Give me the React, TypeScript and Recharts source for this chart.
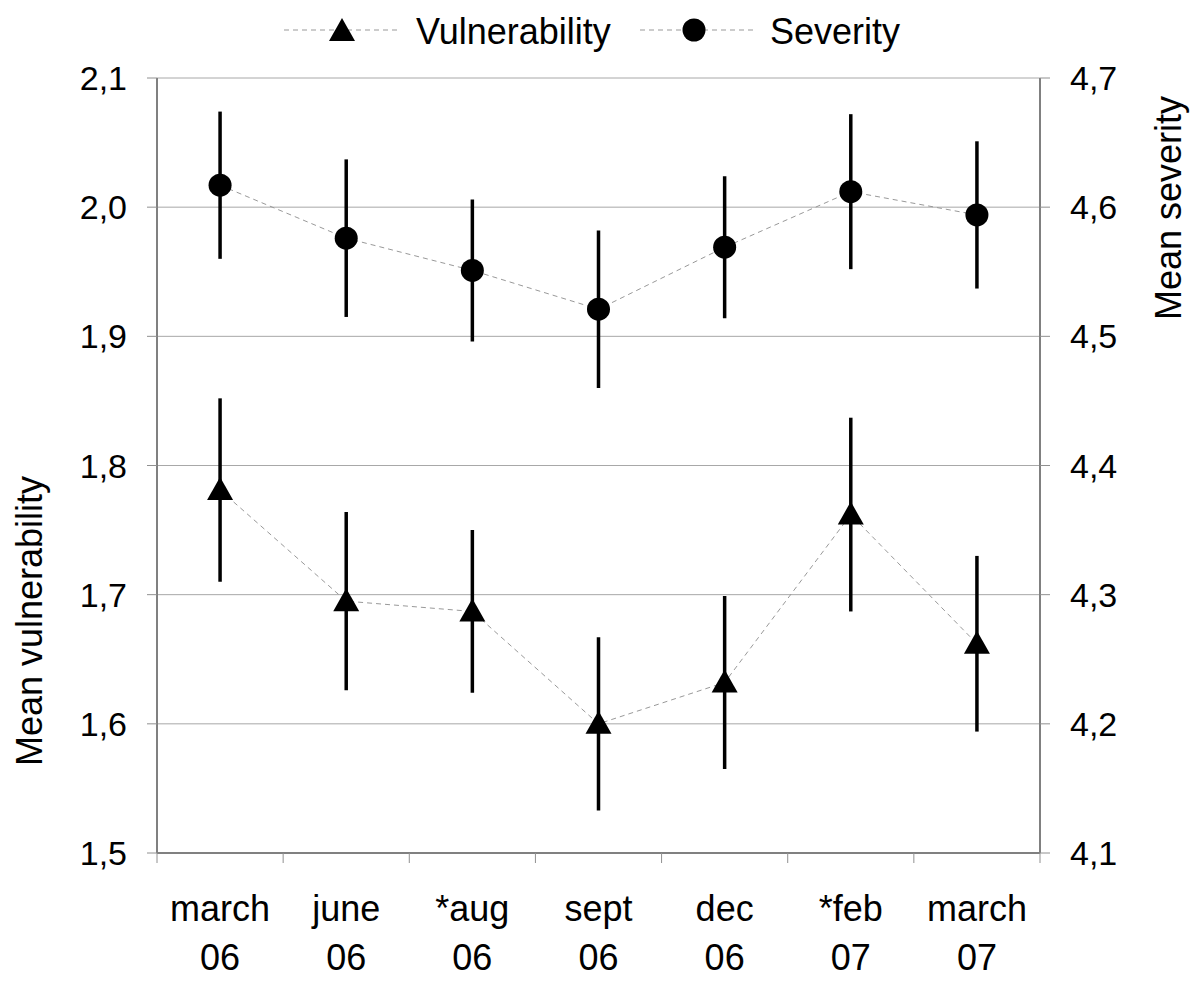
import React from 'react';
import { ComposedChart, Line, XAxis, YAxis, CartesianGrid, ErrorBar } from 'recharts';

const months = ['march', 'june', '*aug', 'sept', 'dec', '*feb', 'march'];
const years = ['06', '06', '06', '06', '06', '07', '07'];
const vulnerability = [1.781, 1.695, 1.687, 1.6, 1.632, 1.762, 1.662];
const vulnerabilityErr = [0.071, 0.069, 0.063, 0.067, 0.067, 0.075, 0.068];
const severity = [4.617, 4.576, 4.551, 4.521, 4.569, 4.612, 4.594];
const severityErr = [0.057, 0.061, 0.055, 0.061, 0.055, 0.06, 0.057];
const leftTicks = [1.5, 1.6, 1.7, 1.8, 1.9, 2.0, 2.1];
const rightTicks = [4.1, 4.2, 4.3, 4.4, 4.5, 4.6, 4.7];
const seriesNames = ['Vulnerability', 'Severity'];

const data = months.map((m, i) => ({
  cat: `${m} ${years[i]}`,
  month: m,
  year: years[i],
  vuln: vulnerability[i],
  vErr: vulnerabilityErr[i],
  sev: severity[i],
  sErr: severityErr[i],
}));

const W = 1200;
const H = 987;
const PLOT_LEFT = 157;
const PLOT_RIGHT = 1040;
const PLOT_TOP = 78;
const PLOT_BOTTOM = 853;
const BAND = (PLOT_RIGHT - PLOT_LEFT) / months.length;
const FONT = '"Liberation Sans", Arial, sans-serif';
const fmt = (v: number) => v.toFixed(1).replace('.', ',');

const Triangle = ({ cx, cy }: { cx: number; cy: number }) => (
  <polygon points={`${cx},${cy - 13} ${cx - 13},${cy + 10} ${cx + 13},${cy + 10}`} fill="#000" />
);

const XTick = (props: any) => {
  const { x, y, index } = props;
  const d = data[index];
  return (
    <g>
      <line x1={x - BAND / 2} x2={x - BAND / 2} y1={y} y2={y + 10} stroke="#909090" strokeWidth={1} />
      {index === data.length - 1 && (
        <line x1={x + BAND / 2} x2={x + BAND / 2} y1={y} y2={y + 10} stroke="#909090" strokeWidth={1} />
      )}
      <text x={x} y={y + 68} textAnchor="middle" fontSize={36} fontFamily={FONT} fill="#000">{d.month}</text>
      <text x={x} y={y + 117} textAnchor="middle" fontSize={36} fontFamily={FONT} fill="#000">{d.year}</text>
    </g>
  );
};

const LeftTitle = () => (
  <text x={42} y={621} transform="rotate(-90 42 621)" textAnchor="middle" fontSize={36} fontFamily={FONT} fill="#000">
    Mean vulnerability
  </text>
);
const RightTitle = () => (
  <text x={1181} y={208} transform="rotate(-90 1181 208)" textAnchor="middle" fontSize={36} fontFamily={FONT} fill="#000">
    Mean severity
  </text>
);

const LegendSvg = () => (
  <svg width={W} height={60} style={{ position: 'absolute', left: 0, top: 0 }}>
    <line x1={284} x2={398} y1={30} y2={30} stroke="#999" strokeDasharray="5 4" strokeWidth={1} />
    <Triangle cx={342} cy={31} />
    <text x={416} y={44} fontSize={36} fontFamily={FONT} fill="#000">{seriesNames[0]}</text>
    <line x1={640} x2={757} y1={30} y2={30} stroke="#999" strokeDasharray="5 4" strokeWidth={1} />
    <circle cx={694} cy={30} r={11.5} fill="#000" />
    <text x={770} y={44} fontSize={36} fontFamily={FONT} fill="#000">{seriesNames[1]}</text>
  </svg>
);

export default function App() {
  return (
    <div style={{ position: 'absolute', left: 0, top: 0, width: W, height: H, background: '#fff', fontFamily: FONT }}>
      <ComposedChart
        width={W}
        height={H}
        data={data}
        margin={{ top: PLOT_TOP, right: 0, bottom: 0, left: 0 }}
      >
        <CartesianGrid yAxisId="left" vertical={false} stroke="#a8a8a8" strokeWidth={1} />
        <XAxis
          dataKey="cat"
          scale="band"
          height={H - PLOT_BOTTOM}
          tickLine={false}
          tickSize={0}
          tickMargin={0}
          interval={0}
          axisLine={{ stroke: '#808080', strokeWidth: 2 }}
          tick={<XTick />}
        />
        <XAxis
          xAxisId="top"
          orientation="top"
          dataKey="cat"
          scale="band"
          height={0}
          tick={false}
          tickLine={false}
          axisLine={{ stroke: '#808080', strokeWidth: 2 }}
        />
        <YAxis
          yAxisId="left"
          orientation="left"
          width={PLOT_LEFT}
          domain={[1.5, 2.1]}
          ticks={leftTicks}
          tickFormatter={fmt}
          tickSize={10}
          tickMargin={20}
          tick={{ fill: '#000', fontSize: 34, fontFamily: FONT }}
          tickLine={{ stroke: '#909090' }}
          axisLine={{ stroke: '#808080', strokeWidth: 2 }}
          label={<LeftTitle />}
        />
        <YAxis
          yAxisId="right"
          orientation="right"
          width={W - PLOT_RIGHT}
          domain={[4.1, 4.7]}
          ticks={rightTicks}
          tickFormatter={fmt}
          tickSize={10}
          tickMargin={20}
          tick={{ fill: '#000', fontSize: 34, fontFamily: FONT }}
          tickLine={{ stroke: '#909090' }}
          axisLine={{ stroke: '#808080', strokeWidth: 2 }}
          label={<RightTitle />}
        />
        <Line
          yAxisId="left"
          dataKey="vuln"
          name={seriesNames[0]}
          stroke="#999"
          strokeWidth={1}
          strokeDasharray="5 4"
          isAnimationActive={false}
          activeDot={false}
          dot={(p: any) => <Triangle key={`t${p.index}`} cx={p.cx} cy={p.cy} />}
        >
          <ErrorBar dataKey="vErr" direction="y" width={0} stroke="#000" strokeWidth={3.5} isAnimationActive={false} />
        </Line>
        <Line
          yAxisId="right"
          dataKey="sev"
          name={seriesNames[1]}
          stroke="#999"
          strokeWidth={1}
          strokeDasharray="5 4"
          isAnimationActive={false}
          activeDot={false}
          dot={(p: any) => <circle key={`c${p.index}`} cx={p.cx} cy={p.cy} r={11.5} fill="#000" />}
        >
          <ErrorBar dataKey="sErr" direction="y" width={0} stroke="#000" strokeWidth={3.5} isAnimationActive={false} />
        </Line>
      </ComposedChart>
      <LegendSvg />
    </div>
  );
}
